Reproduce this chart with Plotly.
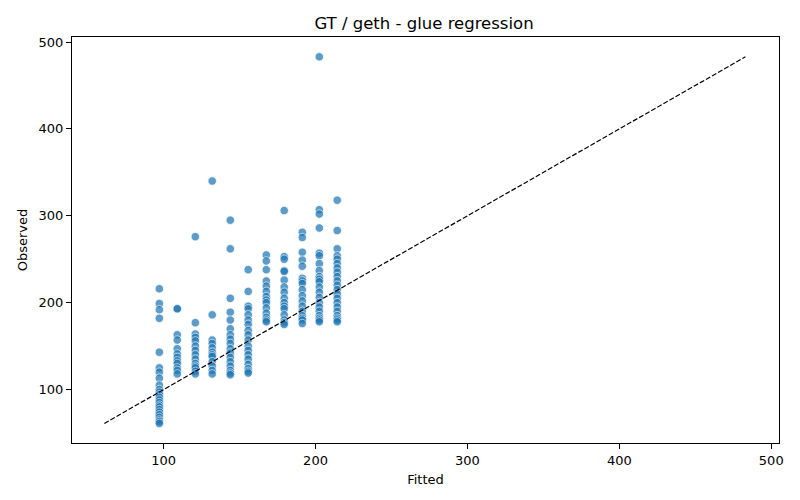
import plotly.graph_objects as go

fitted_levels = [97.2, 109.0, 120.9, 132.0, 143.9, 155.7, 167.6, 179.4, 191.3, 202.5, 214.3]

obs_97 = [216, 199, 192, 182, 143, 125, 120, 113, 105, 100, 97, 94, 91, 88, 85, 82,
          80, 77, 74, 71, 68, 65, 63, 61]
obs_109 = [193, 193, 163, 157, 147, 141, 137, 133, 130, 125, 122, 118]
obs_121 = [276, 177, 164, 160, 156, 150, 145, 140, 135, 130, 127, 125, 121, 118]
obs_132 = [340, 186, 157, 153, 148, 143, 140, 138, 132, 127, 122, 118]
obs_144 = [295, 262, 205, 189, 180, 170, 163, 158, 153, 147, 142, 137, 132, 127,
           122, 119, 117]
obs_156 = [238, 213, 196, 193, 186, 180, 175, 168, 163, 157, 150, 145, 140, 135,
           129, 124, 121, 119]
obs_168 = [255, 248, 238, 225, 219, 213, 207, 203, 200, 194, 188, 183, 180, 178]
obs_179 = [306, 253, 250, 237, 236, 226, 218, 212, 205, 200, 196, 193, 186, 180,
           177, 175]
obs_191 = [281, 275, 258, 249, 242, 228, 225, 222, 215, 208, 202, 196, 190, 185,
           182, 180, 176]
obs_203 = [483, 307, 302, 286, 257, 254, 245, 237, 230, 227, 224, 218, 212, 206,
           200, 195, 190, 185, 182, 180, 178]
obs_214 = [318, 283, 262, 254, 250, 245, 240, 235, 230, 225, 220, 215, 210, 205,
           200, 195, 190, 185, 182, 180, 178]

groups = [obs_97, obs_109, obs_121, obs_132, obs_144, obs_156,
          obs_168, obs_179, obs_191, obs_203, obs_214]

fitted = []
observed = []
for f, obs in zip(fitted_levels, groups):
    fitted += [f] * len(obs)
    observed += obs

lo = min(min(fitted), min(observed))
hi = max(max(fitted), max(observed))

#%% plot
fig = go.Figure()
fig.add_trace(go.Scatter(
    x=fitted, y=observed, mode='markers',
    marker=dict(size=8.5, color='#1f77b4', opacity=0.72,
                line=dict(color='white', width=0.8)),
    showlegend=False))
fig.add_trace(go.Scatter(
    x=[lo, hi], y=[lo, hi], mode='lines',
    line=dict(color='black', width=1.2, dash='5px,2px'),
    showlegend=False))

axis_style = dict(showgrid=False, zeroline=False, showline=True, linecolor='black',
                  linewidth=1, mirror=True, ticks='outside', ticklen=5, tickwidth=1,
                  tickcolor='black', tickfont=dict(size=13, color='black'),
                  automargin=False)

# page body has an 8px offset, margins compensate for it
fig.update_layout(
    width=800, height=500,
    margin=dict(l=64, r=29, t=29, b=65),
    paper_bgcolor='white', plot_bgcolor='white',
    font=dict(family='DejaVu Sans', color='black'),
    title=dict(text='GT / geth - glue regression', x=0.52, xanchor='center',
               y=0.97, yanchor='middle', font=dict(size=16.5)),
    xaxis=dict(axis_style, range=[39.7, 505.1], tickvals=[100, 200, 300, 400, 500],
               title=dict(text='Fitted', font=dict(size=13), standoff=8)),
    yaxis=dict(axis_style, range=[38.5, 505.8], tickvals=[100, 200, 300, 400, 500],
               title=dict(text='Observed', font=dict(size=13), standoff=8)),
)
fig.write_html("out.html")
